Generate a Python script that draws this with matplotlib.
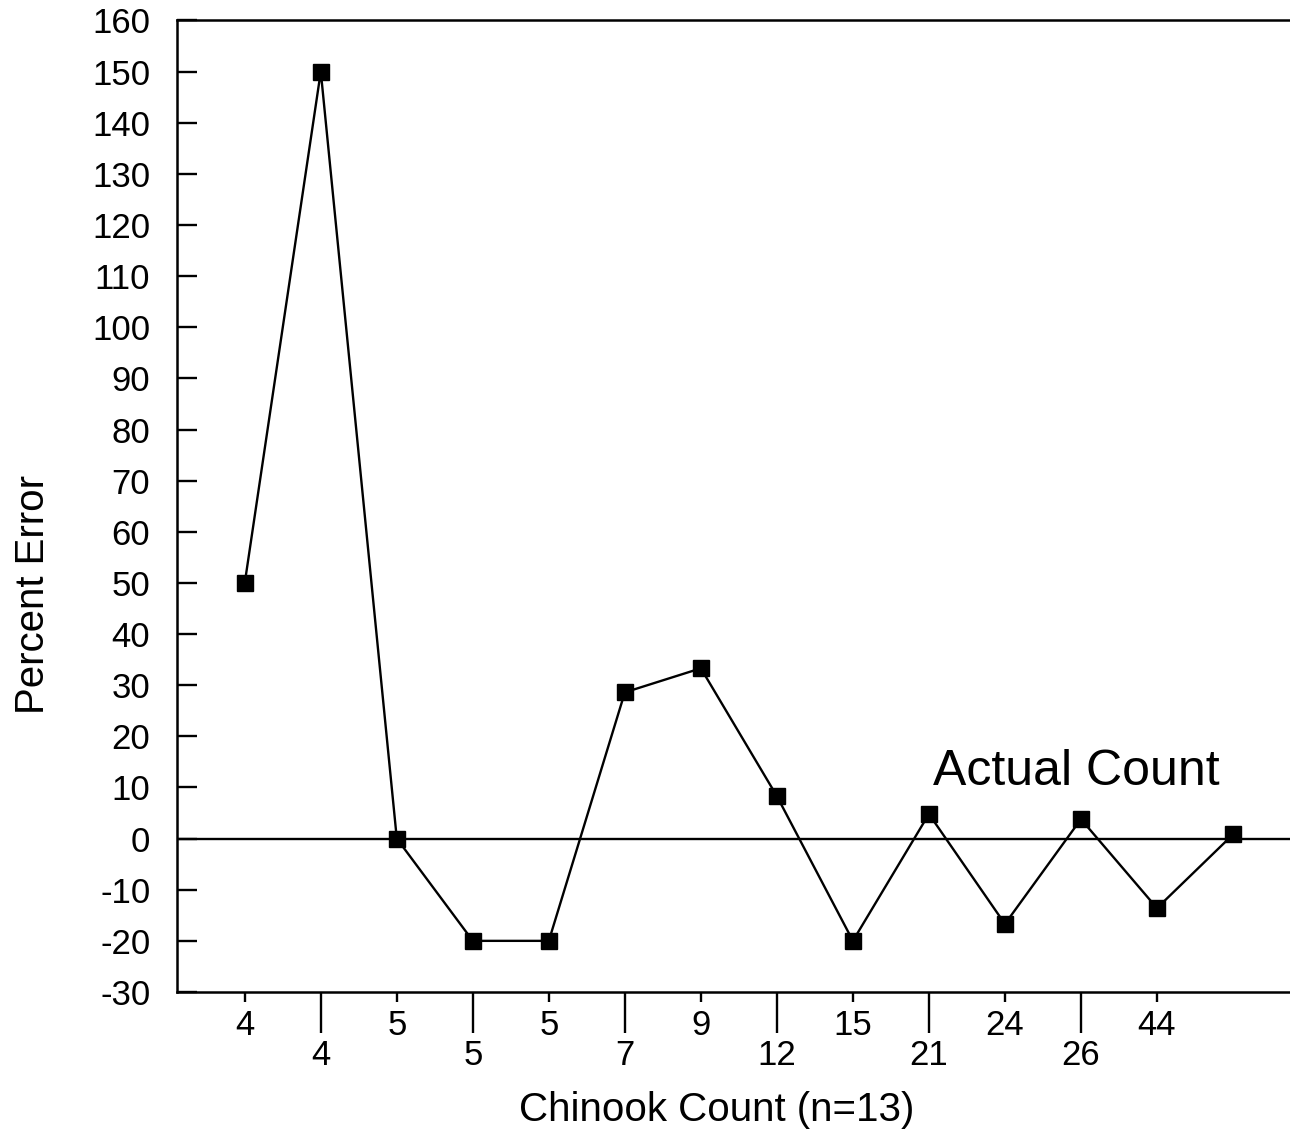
import matplotlib
matplotlib.use("Agg")
import matplotlib.pyplot as plt

plt.rcParams['font.family'] = ['Liberation Sans', 'DejaVu Sans']
plt.rcParams['axes.unicode_minus'] = False

# percent error of each count vs. actual
pos = list(range(1, 15))
err = [50, 150, 0, -20, -20, 28.6, 33.3, 8.3, -20, 4.8, -16.7, 3.8, -13.6, 0.8]

# actual chinook counts, labels alternate between two rows
counts = ["4", "4", "5", "5", "5", "7", "9", "12", "15", "21", "24", "26", "44"]
upper_pos = [1, 3, 5, 7, 9, 11, 13]
lower_pos = [2, 4, 6, 8, 10, 12]
upper_lab = [counts[p - 1] for p in upper_pos]
lower_lab = [counts[p - 1] for p in lower_pos]

yticks = list(range(-30, 161, 10))

fig = plt.figure(figsize=(12.9, 11.35), dpi=100)
ax = fig.add_axes([0.137, 0.126, 0.863, 0.856])

ax.axhline(0, color='black', lw=1.7, zorder=1)
ax.plot(pos, err, color='black', lw=1.7, marker='s', markersize=11.5,
        markerfacecolor='black', markeredgecolor='black', zorder=3)

ax.set_xlim(0.105, 14.75)
ax.set_ylim(-30, 160)

ax.set_yticks(yticks)
ax.tick_params(axis='y', direction='in', length=14.4, width=1.7, pad=19,
               labelsize=25)

ax.set_xticks(upper_pos, labels=upper_lab)
ax.set_xticks(lower_pos, labels=lower_lab, minor=True)
ax.tick_params(axis='x', which='major', direction='out', length=7.2,
               width=1.7, pad=5, labelsize=25)
ax.tick_params(axis='x', which='minor', direction='out', length=29.5,
               width=1.7, pad=4, labelsize=25)

for s in ['left', 'bottom', 'top']:
    ax.spines[s].set_linewidth(1.8)
ax.spines['right'].set_visible(False)

ax.text(10.05, 10.5, "Actual Count", fontsize=36, va='baseline', ha='left')

ax.set_xlabel("Chinook Count (n=13)", fontsize=29)
ax.set_ylabel("Percent Error", fontsize=29)
ax.xaxis.set_label_coords(0.485, -0.102)
ax.yaxis.set_label_coords(-0.112, 0.409)

fig.savefig("out.png", dpi=100)
